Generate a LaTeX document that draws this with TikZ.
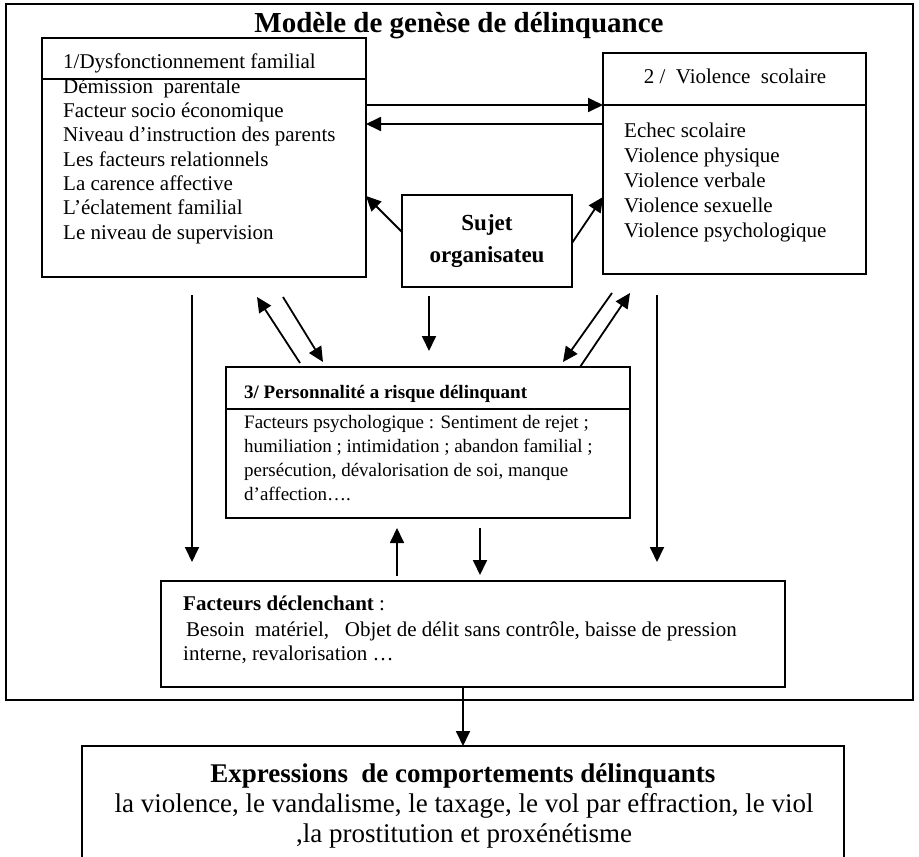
\documentclass[tikz,border=0pt]{standalone}
\usepackage{fontspec}
\setmainfont{Liberation Serif}
\usetikzlibrary{arrows.meta,calc}

\begin{document}
\begin{tikzpicture}[x=1pt,y=-1pt, %Unites en points, axe y vers le bas
  boite/.style={draw, line width=2pt, inner sep=0pt, outer sep=0pt},
  texte/.style={inner sep=0pt, anchor=base west, font=\fontsize{21}{24}\selectfont},
  petit/.style={inner sep=0pt, anchor=base west, font=\fontsize{19}{24}\selectfont},
  grand/.style={inner sep=0pt, anchor=base, font=\fontsize{27}{30}\selectfont},
  fleche/.style={line width=1.8pt, -{Triangle[length=15pt,width=14pt]}}]
\clip (0,0) rectangle (919,857); %Page
					%Cadre general et titre
\node[boite, line width=2.6pt, minimum width=907pt, minimum height=696pt] (cadre) at (459.5,352) {};
\node[grand, font=\bfseries\fontsize{29}{34}\selectfont] (titre) at (459,32) {Modèle de genèse de délinquance};
					%Boite 1 : famille
\node[boite, minimum width=324pt, minimum height=239pt] (fam) at (204,157.5) {};
\draw[line width=2pt] ([yshift=-41pt]fam.north west) -- ([yshift=-41pt]fam.north east);
\node[texte] (fam-titre) at (63,68) {1/Dysfonctionnement familial};
\foreach \ligne [count=\i] in {Démission~~parentale, Facteur socio économique, Niveau d’instruction des parents, Les facteurs relationnels, La carence affective, L’éclatement familial, Le niveau de supervision}
  \node[texte] (fam-\i) at (63,68.7+24.33*\i) {\ligne};
					%Boite 2 : ecole
\node[boite, minimum width=263pt, minimum height=221pt] (viol) at (734.5,163.5) {};
\coordinate (viol-sep) at ([yshift=-52pt]viol.north west);
\draw[line width=2pt] (viol-sep) -- ([yshift=-52pt]viol.north east);
\node[texte, anchor=base] (viol-titre) at (735,83) {2 /~~Violence~~scolaire};
\foreach \ligne [count=\i] in {Echec scolaire, Violence physique, Violence verbale, Violence sexuelle, Violence psychologique}
  \node[texte] (viol-\i) at (624,112+25*\i) {\ligne};
\draw[fleche] (fam.east |- viol-sep) -- (viol-sep); %De 1 vers 2
\draw[fleche] ($(viol-sep)+(0,19)$) -- ($(fam.east |- viol-sep)+(0,19)$); %De 2 vers 1
					%Sujet organisateur
\node[boite, minimum width=170pt, minimum height=92pt, align=center, font=\bfseries\fontsize{23}{32}\selectfont] (sujet) at (487,241) {Sujet\\organisateu};
\draw[fleche] ([yshift=9pt]sujet.west) -- ([yshift=-38.5pt]fam.east);
\draw[fleche] ([yshift=-2pt]sujet.east) -- ([yshift=-33.5pt]viol.west);
					%Boite 3 : personnalite
\node[boite, minimum width=404pt, minimum height=151pt] (perso) at (428,442.5) {};
\draw[line width=2pt] ([yshift=-42pt]perso.north west) -- ([yshift=-42pt]perso.north east);
\node[petit, font=\bfseries\fontsize{19}{24}\selectfont] (perso-titre) at (244,398) {3/ Personnalité a risque délinquant};
\foreach \ligne [count=\i] in {Facteurs psychologique : Sentiment de rejet ;, humiliation ; intimidation ; abandon familial ;, {persécution, dévalorisation de soi, manque}, d’affection….}
  \node[petit] (perso-\i) at (244,404+24*\i) {\ligne};
					%Boite 4 : facteurs declenchant
\node[boite, minimum width=624pt, minimum height=106pt] (declic) at (473,634) {};
\node[texte] (declic-titre) at (183,610) {\textbf{Facteurs déclenchant} :};
\node[texte] (declic-1) at (186,636) {Besoin~~matériel,~~~Objet de délit sans contrôle, baisse de pression};
\node[texte] (declic-2) at (183,660) {interne, revalorisation …};
					%Boite 5 : expressions
\node[boite, minimum width=762pt, minimum height=160pt] (expr) at (463,826) {};
\node[grand, font=\bfseries\fontsize{27}{30}\selectfont] (expr-titre) at (463,782) {Expressions~~de comportements délinquants};
\node[grand] (expr-1) at (464,812) {la violence, le vandalisme, le taxage, le vol par effraction, le viol};
\node[grand] (expr-2) at (464,842) {,la prostitution et proxénétisme};
\draw[fleche] (declic.south -| expr.north) -- (expr.north);
					%Fleches libres
\coordinate (g-h) at (192,295); \coordinate (g-b) at (192,562); %Gauche
\coordinate (d-h) at (657,295); \coordinate (d-b) at (657,562); %Droite
\coordinate (c-h) at (429,296); \coordinate (c-b) at (429,351); %Centre
\coordinate (pg1-a) at (300,363); \coordinate (pg1-b) at (257,297); %Paire gauche
\coordinate (pg2-a) at (283,297); \coordinate (pg2-b) at (323,362);
\coordinate (pd1-a) at (612,293); \coordinate (pd1-b) at (563,362); %Paire droite
\coordinate (pd2-a) at (580,367); \coordinate (pd2-b) at (630,293);
\coordinate (b1-a) at (397,576); \coordinate (b1-b) at (397,528); %Bas
\coordinate (b2-a) at (480,528); \coordinate (b2-b) at (480,575);
\foreach \a/\b in {g-h/g-b, d-h/d-b, c-h/c-b, pg1-a/pg1-b, pg2-a/pg2-b, pd1-a/pd1-b, pd2-a/pd2-b, b1-a/b1-b, b2-a/b2-b}
  \draw[fleche] (\a) -- (\b);
\end{tikzpicture}
\end{document}
